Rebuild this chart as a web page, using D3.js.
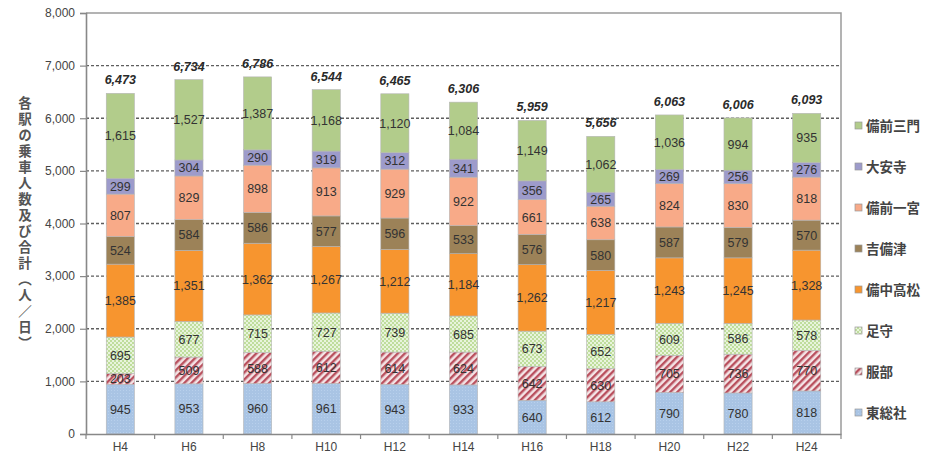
<!DOCTYPE html>
<html><head><meta charset="utf-8">
<script src="https://cdn.jsdelivr.net/npm/d3@7"></script>
<style>
body{margin:0;background:#fff;}
svg{display:block;font-family:"Noto Sans CJK JP","Liberation Sans",sans-serif;}
</style></head>
<body><svg id="c" width="935" height="457"></svg>
<script>
const years = ["H4","H6","H8","H10","H12","H14","H16","H18","H20","H22","H24"];
const stations = ["東総社","服部","足守","備中高松","吉備津","備前一宮","大安寺","備前三門"];
const higashiSoja = [945,953,960,961,943,933,640,612,790,780,818];
const hattori     = [203,509,588,612,614,624,642,630,705,736,770];
const ashimori    = [695,677,715,727,739,685,673,652,609,586,578];
const bitchuTakamatsu = [1385,1351,1362,1267,1212,1184,1262,1217,1243,1245,1328];
const kibitsu     = [524,584,586,577,596,533,576,580,587,579,570];
const bizenIchinomiya = [807,829,898,913,929,922,661,638,824,830,818];
const daianji     = [299,304,290,319,312,341,356,265,269,256,276];
const bizenMikado = [1615,1527,1387,1168,1120,1084,1149,1062,1036,994,935];
const totals = [6473,6734,6786,6544,6465,6306,5959,5656,6063,6006,6093];
const yTicks = [0,1000,2000,3000,4000,5000,6000,7000,8000];

const seriesValues = [higashiSoja,hattori,ashimori,bitchuTakamatsu,kibitsu,bizenIchinomiya,daianji,bizenMikado];
const fills = ["url(#pBlue)","url(#pStripe)","url(#pCheck)","#f7952f","#9c8258","#f8aa88","#9d9bcb","#b2cc8b"];

const svg = d3.select("#c");
const defs = svg.append("defs");
const pb = defs.append("pattern").attr("id","pBlue").attr("patternUnits","userSpaceOnUse").attr("width",3).attr("height",3);
pb.append("rect").attr("width",3).attr("height",3).attr("fill","#a9c4e4");
pb.append("rect").attr("width",1).attr("height",1).attr("fill","#b8d0ec");
const ps = defs.append("pattern").attr("id","pStripe").attr("patternUnits","userSpaceOnUse").attr("width",5).attr("height",5).attr("patternTransform","rotate(45)");
ps.append("rect").attr("width",5).attr("height",5).attr("fill","#f4e4e6");
ps.append("rect").attr("width",2.4).attr("height",5).attr("fill","#b9505e");
const pc = defs.append("pattern").attr("id","pCheck").attr("patternUnits","userSpaceOnUse").attr("width",4).attr("height",4);
pc.append("rect").attr("width",4).attr("height",4).attr("fill","#bfdd9c");
pc.append("rect").attr("width",2).attr("height",2).attr("fill","#e8f4dc");
pc.append("rect").attr("x",2).attr("y",2).attr("width",2).attr("height",2).attr("fill","#e8f4dc");

const L=86,R=841,T=13,B=434;
const x = d3.scaleBand().domain(years).range([L,R]).paddingInner(0.59).paddingOuter(0.295);
const y = d3.scaleLinear().domain([0,8000]).range([B,T]);

svg.append("g").selectAll("line").data(yTicks.filter(d=>d>0&&d<8000)).join("line")
  .attr("x1",L).attr("x2",R).attr("y1",d=>y(d)).attr("y2",d=>y(d))
  .attr("stroke","#5e5e5e").attr("stroke-width",1.3).attr("stroke-dasharray","3,2");
svg.append("path").attr("d",`M${L},${T}H${R}V${B}`).attr("fill","none").attr("stroke","#9a9a9a").attr("stroke-width",1.5);

const rows = years.map((yr,i)=>{const o={year:yr}; stations.forEach((s,k)=>o[s]=seriesValues[k][i]); return o;});
const stack = d3.stack().keys(stations)(rows);

const bw = x.bandwidth();
const layers = svg.append("g").selectAll("g").data(stack).join("g").attr("fill",(d,i)=>fills[i]);
layers.selectAll("rect").data(d=>d).join("rect")
  .attr("x",d=>x(d.data.year)).attr("width",bw)
  .attr("y",d=>y(d[1])).attr("height",d=>y(d[0])-y(d[1]))
  .attr("stroke","#b5b5b5").attr("stroke-width",0.6);

const fmt = d3.format(",");
svg.append("g").selectAll("g").data(stack).join("g").selectAll("text").data(d=>d).join("text")
  .attr("x",d=>x(d.data.year)+bw/2).attr("y",d=>(y(d[0])+y(d[1]))/2+4.5)
  .attr("text-anchor","middle").attr("font-size",12.5).attr("font-family","Liberation Sans, Arial, sans-serif")
  .attr("fill","#333")
  .text(d=>fmt(d[1]-d[0]));

svg.append("g").selectAll("text").data(years).join("text")
  .attr("x",d=>x(d)+bw/2).attr("y",(d,i)=>y(totals[i])-9)
  .attr("text-anchor","middle").attr("font-size",12.5).attr("font-weight","bold").attr("font-style","italic")
  .attr("font-family","Liberation Sans, Arial, sans-serif").attr("fill","#2a2a2a")
  .text((d,i)=>fmt(totals[i]));

const ya = svg.append("g").attr("transform",`translate(${L},0)`)
  .call(d3.axisLeft(y).tickValues(yTicks).tickFormat(d3.format(",")).tickSize(6).tickPadding(5));
ya.select(".domain").attr("stroke","#888").attr("stroke-width",1.6);
ya.selectAll(".tick line").attr("stroke","#888").attr("stroke-width",1.2);
ya.selectAll("text").attr("font-size",12).attr("fill","#444").attr("font-family","Liberation Sans, Arial, sans-serif");

const xa = svg.append("g").attr("transform",`translate(0,${B})`)
  .call(d3.axisBottom(x).tickSize(0).tickPadding(8));
xa.select(".domain").attr("stroke","#888").attr("stroke-width",1.6);
xa.selectAll("text").attr("font-size",12).attr("fill","#444").attr("font-family","Liberation Sans, Arial, sans-serif");
const step = x.step();
svg.append("g").selectAll("line").data(d3.range(years.length+1)).join("line")
  .attr("x1",i=>L+i*step).attr("x2",i=>L+i*step).attr("y1",B).attr("y2",B+5)
  .attr("stroke","#888").attr("stroke-width",1.2);

svg.append("text").attr("x",25).attr("y",96)
  .style("writing-mode","vertical-rl").attr("font-size",13.5).attr("fill","#555").attr("font-weight","bold")
  .attr("letter-spacing",2.5)
  .text("各駅の乗車人数及び合計（人／日）");

const legendOrder = stations.slice().reverse();
const lg = svg.append("g").selectAll("g").data(legendOrder).join("g")
  .attr("transform",(d,i)=>`translate(855,${126+i*41})`);
lg.append("rect").attr("x",0).attr("y",-4).attr("width",7).attr("height",7)
  .attr("fill",d=>fills[stations.indexOf(d)]).attr("stroke","#999").attr("stroke-width",0.7);
lg.append("text").attr("x",11).attr("y",5).attr("font-size",13.5).attr("font-weight","bold").attr("fill","#444").text(d=>d);
</script></body></html>
